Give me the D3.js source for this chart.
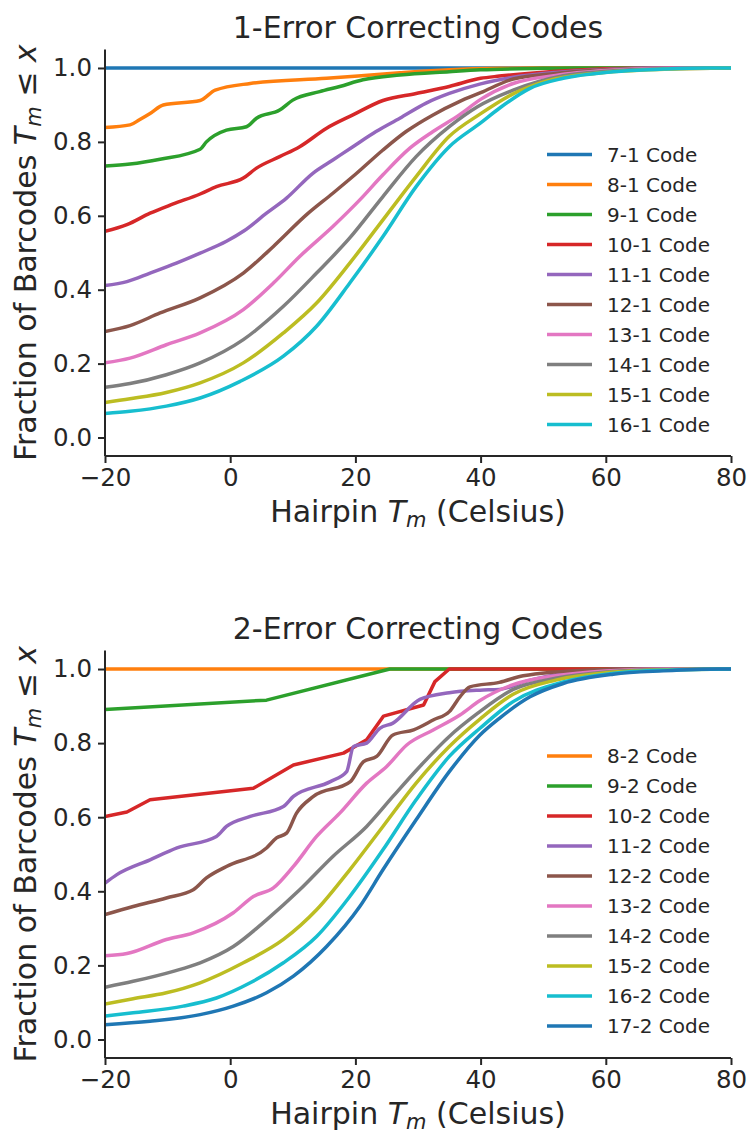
<!DOCTYPE html>
<html>
<head>
<meta charset="utf-8">
<script src="https://cdn.jsdelivr.net/npm/d3@7"></script>
<style>
  body { margin: 0; background: #fff; }
  text { font-family: "DejaVu Sans", sans-serif; fill: #262626; }
</style>
</head>
<body>
<svg id="chart" width="749" height="1134"></svg>
<script>
// x ticks / y ticks
const X_TICKS = [-20, 0, 20, 40, 60, 80];
const Y_TICKS = [0, 0.2, 0.4, 0.6, 0.8, 1.0];

// ---- 1-error codes: [Tm, fraction <= Tm]
const labels1 = ["7-1 Code", "8-1 Code", "9-1 Code", "10-1 Code", "11-1 Code",
  "12-1 Code", "13-1 Code", "14-1 Code", "15-1 Code", "16-1 Code"];

const c7_1 = [[-20, 1], [80, 1]];
const c8_1 = [[-20, 0.839], [-16, 0.846], [-14.5, 0.86], [-12.8, 0.877], [-10.7, 0.9], [-4.8, 0.912],
  [-2.4, 0.94], [3.2, 0.958], [15.4, 0.972], [27.1, 0.987], [35, 0.995], [43, 0.999], [50, 1], [80, 1]];
const c9_1 = [[-20, 0.735], [-16, 0.74], [-11.2, 0.753], [-4.8, 0.78], [-3.8, 0.8], [-0.6, 0.832],
  [2.6, 0.841], [4.2, 0.864], [7.9, 0.886], [10, 0.913], [14.3, 0.936], [17.5, 0.95], [21.2, 0.968],
  [27.1, 0.981], [35, 0.99], [40, 0.995], [50, 0.999], [55, 1], [80, 1]];
const c10_1 = [[-20, 0.558], [-16.5, 0.576], [-12.8, 0.607], [-9.1, 0.632], [-4.8, 0.659], [-2.2, 0.679],
  [2.1, 0.702], [4.2, 0.729], [7.9, 0.76], [11.1, 0.787], [15.4, 0.837], [19.6, 0.873], [24.4, 0.912],
  [29.7, 0.931], [35, 0.95], [40, 0.972], [43, 0.978], [48, 0.986], [55, 0.994], [65, 0.999], [80, 1]];
const c11_1 = [[-20, 0.411], [-16.5, 0.422], [-12.8, 0.445], [-8.6, 0.472], [-4.8, 0.499], [-0.6, 0.531],
  [2.1, 0.558], [5.8, 0.607], [9, 0.648], [13.2, 0.715], [16.4, 0.751], [19.6, 0.787], [23.3, 0.828],
  [27.1, 0.864], [31.3, 0.905], [35, 0.931], [40, 0.957], [45.2, 0.975], [52, 0.988], [60, 0.996],
  [70, 1], [80, 1]];
const c12_1 = [[-20, 0.287], [-16, 0.303], [-11.2, 0.337], [-4.8, 0.378], [2.1, 0.445], [6.9, 0.517],
  [12.2, 0.603], [16.4, 0.661], [20.2, 0.715], [24.4, 0.778], [28.1, 0.828], [32.4, 0.873],
  [36.6, 0.909], [40, 0.933], [45.2, 0.97], [52, 0.985], [60, 0.995], [70, 0.999], [80, 1]];
const c13_1 = [[-20, 0.202], [-16, 0.215], [-10.2, 0.251], [-4.8, 0.283], [2.1, 0.346], [6.9, 0.418],
  [11.1, 0.49], [16.4, 0.571], [20.7, 0.643], [24.4, 0.711], [28.7, 0.783], [32.4, 0.828],
  [36.6, 0.873], [40, 0.915], [45.2, 0.958], [52, 0.98], [60, 0.993], [70, 0.999], [80, 1]];
const c14_1 = [[-20, 0.136], [-16, 0.146], [-10.2, 0.17], [-4.8, 0.202], [2.1, 0.265], [8.5, 0.355],
  [13.8, 0.445], [19.1, 0.54], [24.4, 0.652], [29.7, 0.76], [35, 0.841], [39.5, 0.895], [45.2, 0.94],
  [53.2, 0.979], [60, 0.991], [70, 0.998], [80, 1]];
const c15_1 = [[-20, 0.095], [-16, 0.105], [-10.2, 0.122], [-4.8, 0.148], [2.1, 0.202], [8.5, 0.283],
  [13.8, 0.364], [19.1, 0.472], [24.4, 0.589], [29.7, 0.706], [35, 0.815], [39.9, 0.875], [45.2, 0.93],
  [50.6, 0.965], [58.5, 0.986], [70, 0.997], [80, 1]];
const c16_1 = [[-20, 0.065], [-16, 0.071], [-10.2, 0.085], [-4.8, 0.107], [1.6, 0.152], [8.5, 0.22],
  [13.8, 0.301], [19.1, 0.418], [24.4, 0.544], [29.7, 0.679], [35, 0.787], [39.9, 0.85], [43, 0.891],
  [47.9, 0.945], [53.2, 0.972], [61.2, 0.99], [69.2, 0.997], [76, 1], [80, 1]];

// ---- 2-error codes
const labels2 = ["8-2 Code", "9-2 Code", "10-2 Code", "11-2 Code", "12-2 Code",
  "13-2 Code", "14-2 Code", "15-2 Code", "16-2 Code", "17-2 Code"];

const c8_2 = [[-20, 1], [80, 1]];
const c9_2 = [[-20, 0.891], [5.8, 0.916], [25.5, 1], [80, 1]];
const c10_2 = [[-20, 0.602], [-16.5, 0.614], [-12.8, 0.647], [3.7, 0.678], [10.1, 0.741], [18.1, 0.773],
  [21.8, 0.809], [24.5, 0.873], [30.9, 0.903], [32.7, 0.966], [35, 1], [80, 1]];
const c11_2 = [[-20, 0.422], [-18.1, 0.445], [-12.8, 0.485], [-8.5, 0.517], [-2.2, 0.548], [-0.6, 0.575],
  [3.2, 0.602], [8.5, 0.629], [10.1, 0.656], [16, 0.696], [18.6, 0.723], [19.7, 0.791], [21.8, 0.8],
  [23.9, 0.84], [26, 0.854], [30.3, 0.918], [35, 0.936], [39.9, 0.943], [43, 0.945], [47.9, 0.97],
  [56.8, 0.995], [65, 1], [80, 1]];
const c12_2 = [[-20, 0.337], [-15.5, 0.359], [-10.2, 0.382], [-5.9, 0.404], [-3.8, 0.436], [-0.6, 0.467],
  [5.8, 0.517], [7.4, 0.544], [9, 0.557], [10.6, 0.611], [13.3, 0.656], [19.2, 0.696], [21.3, 0.75],
  [23.4, 0.764], [26, 0.822], [29.3, 0.836], [32.5, 0.863], [35, 0.885], [36.7, 0.925], [38.3, 0.952],
  [43, 0.964], [46.8, 0.982], [56.8, 0.997], [65, 1], [80, 1]];
const c13_2 = [[-20, 0.226], [-16.5, 0.232], [-10.2, 0.27], [-5.9, 0.288], [0.5, 0.342], [3.7, 0.386],
  [6.9, 0.409], [10.1, 0.467], [13.8, 0.548], [17.5, 0.611], [21.8, 0.692], [25, 0.737], [28.2, 0.795],
  [32.5, 0.836], [36.7, 0.876], [39.9, 0.915], [45.2, 0.958], [52, 0.982], [60, 0.995], [70, 1], [80, 1]];
const c14_2 = [[-20, 0.141], [-15.5, 0.157], [-9.1, 0.184], [-4.8, 0.207], [0.5, 0.251], [5.8, 0.323],
  [11.1, 0.404], [16.4, 0.494], [21.8, 0.575], [26, 0.656], [30.3, 0.737], [35, 0.818], [39.5, 0.88],
  [45.2, 0.945], [52, 0.975], [60, 0.992], [70, 0.999], [80, 1]];
const c15_2 = [[-20, 0.096], [-15.5, 0.11], [-10.2, 0.126], [-4.8, 0.153], [2.1, 0.207], [8.5, 0.27],
  [13.8, 0.35], [19.1, 0.458], [24.4, 0.575], [29.7, 0.692], [35, 0.791], [39.9, 0.865], [45.2, 0.932],
  [52, 0.97], [60, 0.99], [70, 0.998], [80, 1]];
const c16_2 = [[-20, 0.063], [-15.5, 0.072], [-7.5, 0.09], [-2.2, 0.112], [3.2, 0.153], [8.5, 0.207],
  [13.8, 0.278], [19.1, 0.386], [24.4, 0.512], [29.7, 0.647], [35, 0.764], [39.9, 0.84], [45.2, 0.912],
  [53.2, 0.965], [61, 0.988], [70, 0.997], [80, 1]];
const c17_2 = [[-20, 0.04], [-12.8, 0.049], [-4.8, 0.067], [0.5, 0.09], [5.8, 0.126], [10.1, 0.171],
  [15.4, 0.251], [20.7, 0.359], [24.4, 0.458], [29.7, 0.593], [35, 0.723], [39.9, 0.822], [43, 0.867],
  [47.9, 0.925], [53.2, 0.961], [61.2, 0.986], [69.2, 0.995], [78, 1], [80, 1]];

const curves1 = [c7_1, c8_1, c9_1, c10_1, c11_1, c12_1, c13_1, c14_1, c15_1, c16_1];
const curves2 = [c8_2, c9_2, c10_2, c11_2, c12_2, c13_2, c14_2, c15_2, c16_2, c17_2];

// these few have so little data that the plot shows straight segments
const straightCurves = [c9_2, c10_2];

const colors = d3.schemeCategory10;

const LEFT = 105, RIGHT = 731;
const INK = "#262626";

const svg = d3.select("#chart");

function draw_panel(opts) {
  const {top, bottom, title, labels, curves, colorOffset, legendY, clipId} = opts;

  const x = d3.scaleLinear().domain([-20, 80]).range([LEFT, RIGHT]);
  const y = d3.scaleLinear().domain([-0.05, 1.05]).range([bottom, top]);

  const g = svg.append("g");

  g.append("clipPath").attr("id", clipId)
    .append("rect")
    .attr("x", LEFT).attr("y", top - 3)
    .attr("width", RIGHT - LEFT + 3).attr("height", bottom - top + 3);

  const smooth = d3.line().curve(d3.curveMonotoneX)
    .x(d => x(d[0]))
    .y(d => y(d[1]));
  const straight = d3.line()
    .x(d => x(d[0]))
    .y(d => y(d[1]));

  g.append("g")
    .attr("clip-path", `url(#${clipId})`)
    .selectAll("path")
    .data(curves)
    .enter()
    .append("path")
    .attr("d", d => straightCurves.includes(d) ? straight(d) : smooth(d))
    .attr("fill", "none")
    .attr("stroke", (d, i) => colors[(i + colorOffset) % 10])
    .attr("stroke-width", 3.5)
    .attr("stroke-linejoin", "round");

  // axes
  const xAxis = g.append("g")
    .attr("transform", `translate(0,${bottom})`)
    .call(d3.axisBottom(x).tickValues(X_TICKS).tickSize(7).tickPadding(6)
      .tickFormat(d => d < 0 ? "\u2212" + Math.abs(d) : d));
  const yAxis = g.append("g")
    .attr("transform", `translate(${LEFT},0)`)
    .call(d3.axisLeft(y).tickValues(Y_TICKS).tickSize(7).tickPadding(6)
      .tickFormat(d3.format(".1f")));

  [xAxis, yAxis].forEach(a => {
    a.select(".domain").attr("stroke", INK).attr("stroke-width", 2);
    a.selectAll(".tick line").attr("stroke", INK).attr("stroke-width", 2);
    a.selectAll(".tick text")
      .attr("fill", INK)
      .style("font-size", "24.5px")
      .style("font-family", "DejaVu Sans");
  });
  // domain lines without the end caps
  xAxis.select(".domain").attr("d", `M${LEFT},0H${RIGHT}`);
  yAxis.select(".domain").attr("d", `M0,${bottom}V${top}`);

  // title
  g.append("text")
    .attr("x", (LEFT + RIGHT) / 2)
    .attr("y", top - 12)
    .attr("text-anchor", "middle")
    .style("font-size", "30px")
    .text(title);

  // x label
  const xl = g.append("text")
    .attr("x", (LEFT + RIGHT) / 2)
    .attr("y", bottom + 66)
    .attr("text-anchor", "middle")
    .style("font-size", "30px");
  xl.append("tspan").text("Hairpin ");
  xl.append("tspan").style("font-style", "italic").text("T");
  xl.append("tspan").style("font-style", "italic").style("font-size", "21px").attr("dy", 5).text("m");
  xl.append("tspan").attr("dy", -5).text(" (Celsius)");

  // y label
  const yl = g.append("text")
    .attr("transform", `translate(36,${(top + bottom) / 2}) rotate(-90)`)
    .attr("text-anchor", "middle")
    .style("font-size", "30px");
  yl.append("tspan").text("Fraction of Barcodes ");
  yl.append("tspan").style("font-style", "italic").text("T");
  yl.append("tspan").style("font-style", "italic").style("font-size", "21px").attr("dy", 5).text("m");
  yl.append("tspan").attr("dy", -5).text(" \u2264 ");
  yl.append("tspan").style("font-style", "italic").text("x");

  // legend
  const leg = g.append("g")
    .selectAll("g")
    .data(labels)
    .enter()
    .append("g")
    .attr("transform", (d, i) => `translate(547,${legendY + i * 30})`);
  leg.append("line")
    .attr("x1", 0).attr("x2", 45)
    .attr("stroke", (d, i) => colors[(i + colorOffset) % 10])
    .attr("stroke-width", 3.5);
  leg.append("text")
    .attr("x", 60)
    .attr("y", 7)
    .style("font-size", "20px")
    .text(d => d);
}

draw_panel({
  top: 49.5, bottom: 456, title: "1-Error Correcting Codes",
  labels: labels1, curves: curves1, colorOffset: 0, legendY: 154.5, clipId: "clip1"
});
draw_panel({
  top: 650.5, bottom: 1058, title: "2-Error Correcting Codes",
  labels: labels2, curves: curves2, colorOffset: 1, legendY: 756, clipId: "clip2"
});
</script>
</body>
</html>
